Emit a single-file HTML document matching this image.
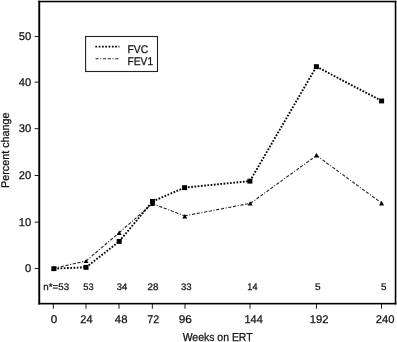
<!DOCTYPE html><html><head><meta charset="utf-8"><style>html,body{margin:0;padding:0;background:#fff;}svg{display:block;filter:grayscale(1);}text{font-family:"Liberation Sans",sans-serif;text-rendering:geometricPrecision;fill:#111;stroke:#111;stroke-width:0.25px;}</style></head><body>
<svg width="397" height="342" viewBox="0 0 397 342">
<rect width="397" height="342" fill="#fff"/>
<rect x="38.3" y="0.75" width="358" height="1.55" fill="#000"/>
<rect x="38.3" y="302.85" width="358" height="1.6" fill="#000"/>
<rect x="38.3" y="0.75" width="1.9" height="303.7" fill="#000"/>
<rect x="394.75" y="0.75" width="1.6" height="303.7" fill="#000"/>
<rect x="34.6" y="36.05" width="4" height="0.9" fill="#000"/>
<text x="31.3" y="40.2" font-size="11.2" text-anchor="end">50</text>
<rect x="34.6" y="81.64999999999999" width="4" height="0.9" fill="#000"/>
<text x="31.3" y="85.8" font-size="11.2" text-anchor="end">40</text>
<rect x="34.6" y="128.25" width="4" height="0.9" fill="#000"/>
<text x="31.3" y="132.39999999999998" font-size="11.2" text-anchor="end">30</text>
<rect x="34.6" y="175.05" width="4" height="0.9" fill="#000"/>
<text x="31.3" y="179.2" font-size="11.2" text-anchor="end">20</text>
<rect x="34.6" y="221.65" width="4" height="0.9" fill="#000"/>
<text x="31.3" y="225.79999999999998" font-size="11.2" text-anchor="end">10</text>
<rect x="34.6" y="268.05" width="4" height="0.9" fill="#000"/>
<text x="31.3" y="272.2" font-size="11.2" text-anchor="end">0</text>
<rect x="52.849999999999994" y="304" width="0.9" height="4.7" fill="#000"/>
<rect x="85.55" y="304" width="0.9" height="4.7" fill="#000"/>
<rect x="118.55" y="304" width="0.9" height="4.7" fill="#000"/>
<rect x="151.85000000000002" y="304" width="0.9" height="4.7" fill="#000"/>
<rect x="184.55" y="304" width="0.9" height="4.7" fill="#000"/>
<rect x="249.55" y="304" width="0.9" height="4.7" fill="#000"/>
<rect x="315.95" y="304" width="0.9" height="4.7" fill="#000"/>
<rect x="381.05" y="304" width="0.9" height="4.7" fill="#000"/>
<text x="50.75" y="323.4" font-size="11.2" textLength="6.50" lengthAdjust="spacingAndGlyphs" >0</text>
<text x="80.25" y="323.4" font-size="11.2" textLength="12.30" lengthAdjust="spacingAndGlyphs" >24</text>
<text x="114.85" y="323.4" font-size="11.2" textLength="12.60" lengthAdjust="spacingAndGlyphs" >48</text>
<text x="147.35" y="323.4" font-size="11.2" textLength="12.00" lengthAdjust="spacingAndGlyphs" >72</text>
<text x="178.65" y="323.4" font-size="11.2" textLength="13.10" lengthAdjust="spacingAndGlyphs" >96</text>
<text x="244.45" y="323.4" font-size="11.2" textLength="18.30" lengthAdjust="spacingAndGlyphs" >144</text>
<text x="309.85" y="323.4" font-size="11.2" textLength="18.70" lengthAdjust="spacingAndGlyphs" >192</text>
<text x="375.85" y="323.4" font-size="11.2" textLength="18.70" lengthAdjust="spacingAndGlyphs" >240</text>
<text x="43.35" y="290.3" font-size="9.6" textLength="25.80" lengthAdjust="spacingAndGlyphs" >n*=53</text>
<text x="83.35" y="290.3" font-size="9.6" textLength="10.30" lengthAdjust="spacingAndGlyphs" >53</text>
<text x="116.65" y="290.3" font-size="9.6" textLength="10.50" lengthAdjust="spacingAndGlyphs" >34</text>
<text x="147.45" y="290.3" font-size="9.6" textLength="10.90" lengthAdjust="spacingAndGlyphs" >28</text>
<text x="180.95" y="290.3" font-size="9.6" textLength="10.70" lengthAdjust="spacingAndGlyphs" >33</text>
<text x="247.35" y="290.3" font-size="9.6" textLength="10.10" lengthAdjust="spacingAndGlyphs" >14</text>
<text x="314.95" y="290.3" font-size="9.6" textLength="5.60" lengthAdjust="spacingAndGlyphs" >5</text>
<text x="381.05" y="290.3" font-size="9.6" textLength="5.50" lengthAdjust="spacingAndGlyphs" >5</text>
<text x="182.65" y="341.2" font-size="11.5" textLength="70.00" lengthAdjust="spacingAndGlyphs" >Weeks on ERT</text>
<g transform="translate(9.1,0) rotate(-90)"><text x="-187.95" y="0" font-size="11.2" textLength="75.50" lengthAdjust="spacingAndGlyphs" >Percent change</text></g>
<rect x="85.6" y="36.5" width="71.9" height="35" fill="none" stroke="#222" stroke-width="1.1"/>
<line x1="95.4" y1="46.6" x2="119.4" y2="46.6" stroke="#000" stroke-width="1.9" stroke-dasharray="1.7 1.6"/>
<line x1="95.5" y1="58.8" x2="119" y2="58.8" stroke="#222" stroke-width="1.1" stroke-dasharray="3.1 1.65 1 1.7 3.2 1.65"/>
<text x="127.55" y="53.2" font-size="11.2" textLength="20.70" lengthAdjust="spacingAndGlyphs" >FVC</text>
<text x="127.55" y="65.3" font-size="11.2" textLength="25.60" lengthAdjust="spacingAndGlyphs" >FEV1</text>
<line x1="53.5" y1="268.3" x2="86" y2="261" stroke="#222" stroke-width="1.1" stroke-dasharray="3.1 1.65 1 1.7 3.2 1.65"/>
<line x1="86" y1="261" x2="119.2" y2="232.7" stroke="#222" stroke-width="1.1" stroke-dasharray="3.1 1.65 1 1.7 3.2 1.65"/>
<line x1="119.2" y1="232.7" x2="152.3" y2="203.6" stroke="#222" stroke-width="1.1" stroke-dasharray="3.1 1.65 1 1.7 3.2 1.65"/>
<line x1="152.3" y1="203.6" x2="184.7" y2="215.9" stroke="#222" stroke-width="1.1" stroke-dasharray="3.1 1.65 1 1.7 3.2 1.65"/>
<line x1="184.7" y1="215.9" x2="250.5" y2="203.3" stroke="#222" stroke-width="1.1" stroke-dasharray="3.1 1.65 1 1.7 3.2 1.65"/>
<line x1="250.5" y1="203.3" x2="316.5" y2="155.5" stroke="#222" stroke-width="1.1" stroke-dasharray="3.1 1.65 1 1.7 3.2 1.65"/>
<line x1="316.5" y1="155.5" x2="381.6" y2="203.1" stroke="#222" stroke-width="1.1" stroke-dasharray="3.1 1.65 1 1.7 3.2 1.65"/>
<line x1="53.9" y1="268.6" x2="86" y2="267.3" stroke="#000" stroke-width="1.9" stroke-dasharray="1.7 1.55" stroke-dashoffset="-0.15"/>
<line x1="86" y1="267.3" x2="119.2" y2="241.4" stroke="#000" stroke-width="1.9" stroke-dasharray="1.7 1.55" stroke-dashoffset="-0.15"/>
<line x1="119.2" y1="241.4" x2="152.5" y2="201.4" stroke="#000" stroke-width="1.9" stroke-dasharray="1.7 1.55" stroke-dashoffset="-0.15"/>
<line x1="152.5" y1="201.4" x2="184.6" y2="187.6" stroke="#000" stroke-width="1.9" stroke-dasharray="1.7 1.55" stroke-dashoffset="-0.15"/>
<line x1="184.6" y1="187.6" x2="249.9" y2="181.1" stroke="#000" stroke-width="1.9" stroke-dasharray="1.7 1.55" stroke-dashoffset="-0.15"/>
<line x1="249.9" y1="181.1" x2="316.4" y2="66.6" stroke="#000" stroke-width="1.9" stroke-dasharray="1.7 1.55" stroke-dashoffset="-0.15"/>
<line x1="316.4" y1="66.6" x2="381.6" y2="100.9" stroke="#000" stroke-width="1.9" stroke-dasharray="1.7 1.55" stroke-dashoffset="-0.15"/>
<polygon points="53.6,266.2 56.1,270.6 51.1,270.6" fill="#000"/>
<polygon points="86,259.2 88.5,262.9 83.5,262.9" fill="#000"/>
<polygon points="119.2,230.6 121.7,234.9 116.7,234.9" fill="#000"/>
<polygon points="152.4,201.4 154.9,205.9 149.9,205.9" fill="#000"/>
<polygon points="184.8,213.9 187.3,218.5 182.3,218.5" fill="#000"/>
<polygon points="250.2,201.2 252.7,205.5 247.7,205.5" fill="#000"/>
<polygon points="316.5,152.8 319.0,157.6 314.0,157.6" fill="#000"/>
<polygon points="381.6,200.8 384.1,205.4 379.1,205.4" fill="#000"/>
<rect x="51.4" y="266.20000000000005" width="5" height="4.9" fill="#000"/>
<rect x="83.5" y="264.90000000000003" width="5" height="4.9" fill="#000"/>
<rect x="116.7" y="239.0" width="5" height="4.9" fill="#000"/>
<rect x="150.0" y="199.0" width="5" height="4.9" fill="#000"/>
<rect x="182.1" y="185.2" width="5" height="4.9" fill="#000"/>
<rect x="247.4" y="178.7" width="5" height="4.9" fill="#000"/>
<rect x="313.9" y="64.19999999999999" width="5" height="4.9" fill="#000"/>
<rect x="379.1" y="98.5" width="5" height="4.9" fill="#000"/>
</svg></body></html>
